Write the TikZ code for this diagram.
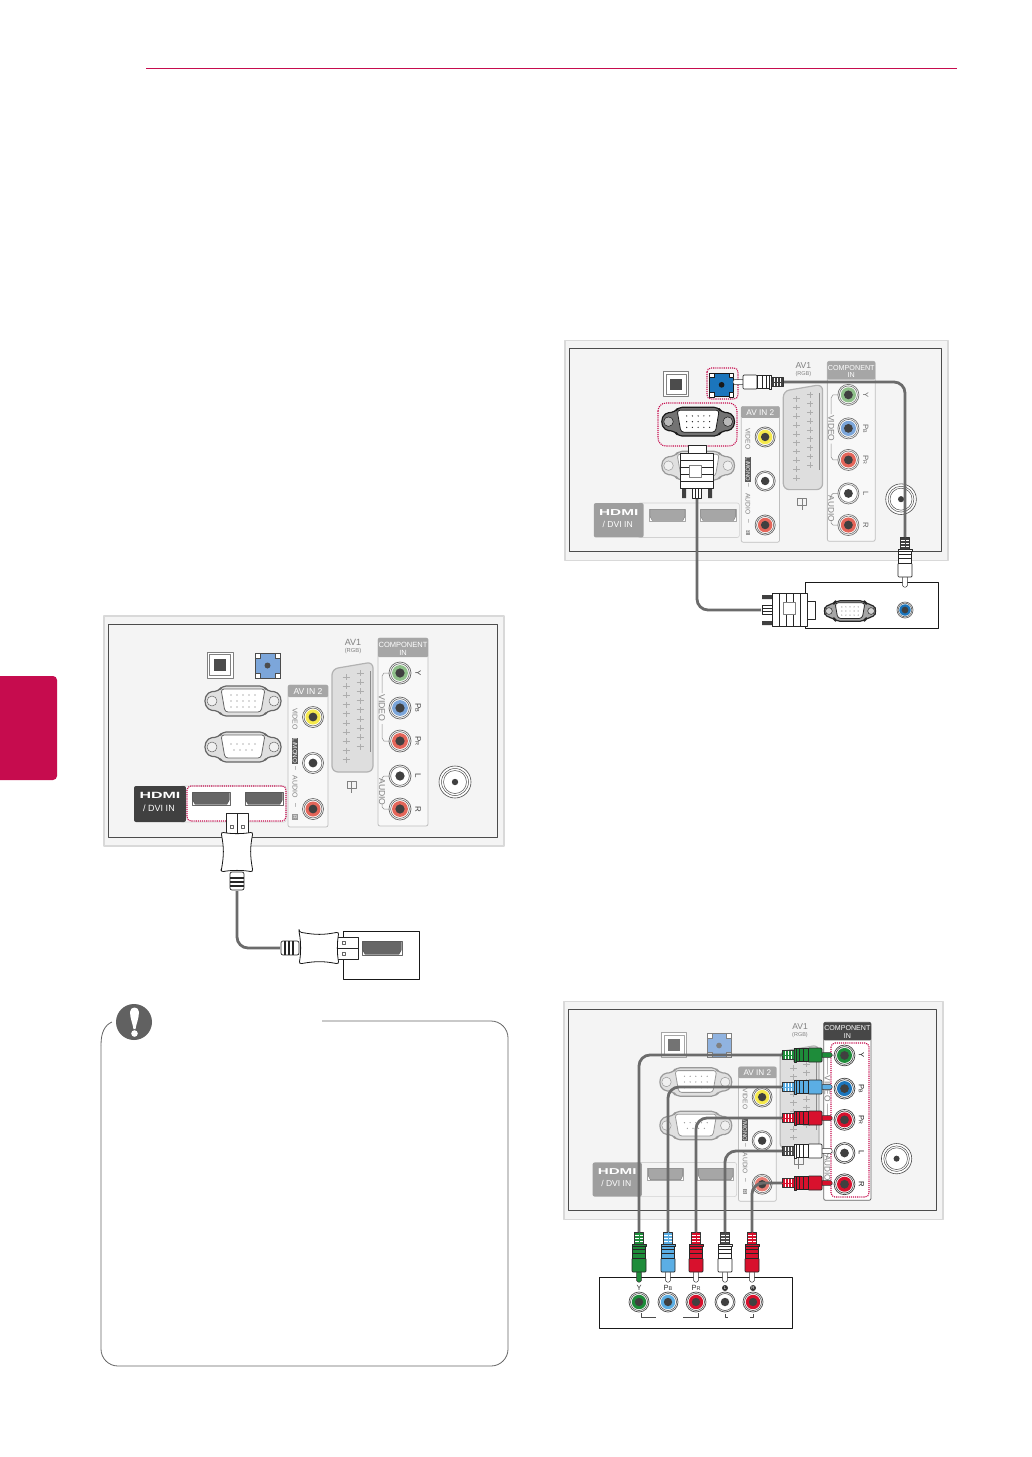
\documentclass[tikz,border=0pt]{standalone}
\usepackage{fontspec}
\setmainfont{Liberation Sans}
\usetikzlibrary{calc}
\definecolor{crim}{HTML}{C60C4E}
\definecolor{cabl}{HTML}{6B6B6B}
\definecolor{pbg}{HTML}{F4F4F4}
\definecolor{hgrn}{HTML}{1E8C3A}
\definecolor{hblu}{HTML}{5BAEE4}
\definecolor{hred}{HTML}{D8112D}
\definecolor{jgrn}{HTML}{8FC08A}
\definecolor{jblu}{HTML}{7CA6DA}
\definecolor{jred}{HTML}{E4665A}
\definecolor{jyel}{HTML}{F5E94C}
\definecolor{jblu2}{HTML}{1B75BC}
\tikzset{
  cable/.style={draw=cabl,line width=2.8pt,rounded corners=11pt},
  dotbox/.style={draw=crim,line width=1.1pt,densely dotted,rounded corners=4pt},
  plugline/.style={draw=black!85,line width=.7pt},
  txt/.style={inner sep=0pt,outer sep=0pt,transform shape}
}
\newcommand\fs[1]{\fontsize{#1}{#1}\selectfont}
% jack: x y fill ring radius
\newcommand\jk[5]{%
  \fill[white,draw=#4,line width=.7pt] (#1,#2) circle (#5);
  \fill[white,draw=#4,line width=.6pt] (#1,#2) circle ({#5*.85});
  \fill[#3] (#1,#2) circle ({#5*.72});
  \fill[black!75] (#1,#2) circle ({#5*.42});
}
% D-sub: x y fill outline inner rows(1=vga,0=serial)
\newcommand\dsub[6]{\begin{scope}[shift={(#1,#2)}]
  \colorlet{dsx}{#3}
  \draw[draw=#4,fill=#3,line width=1.2pt,rounded corners=4pt] (-39,0)--(-35,-9)--(-24,-10)--(-21,-15)--(21,-15)--(24,-10)--(35,-9)--(39,0)--(35,9)--(24,10)--(21,15)--(-21,15)--(-24,10)--(-35,9)--cycle;
  \draw[draw=#4,fill=dsx!50!white,line width=.5pt] (-31,0) circle (5) (31,0) circle (5);
  \draw[draw=#4,fill=#5,line width=.8pt,rounded corners=3pt] (-22,-12)--(22,-12)--(18,11)--(-18,11)--cycle;
  \ifnum#6=1
    \foreach \yy in {-6,0,6} \foreach \xx in {-12,-6,...,12} \fill[#4] (\xx,\yy) circle (.7);
  \else
    \foreach \xx in {-12,-6,...,12} \fill[#4] (\xx,-3) circle (.7);
    \foreach \xx in {-9,-3,...,9} \fill[#4] (\xx,3) circle (.7);
  \fi
\end{scope}}
% hdmi port
\newcommand\hport[5]{%
  \colorlet{hpx}{#5}
  \fill[white,draw=hpx,line width=.5pt] (#1,#2) rectangle (#3,#4);
  \fill[hpx,draw=hpx!70!black,line width=.3pt] (#1+.7,#2+.7)--(#3-.7,#2+.7)--(#3-.7,#4-5)--(#3-3,#4-.7)--(#1+3,#4-.7)--(#1+.7,#4-5)--cycle;
}
% the back panel, drawn in the coordinates of the first panel
\newcommand\tvpanel[2]{%
  \fill[pbg,draw=black!15,line width=1.5pt] (104,616) rectangle (504,846);
  \draw[black!70,line width=.9pt] (108,624) rectangle (497,837);
  \begin{scope}[shift={(0,#2)}]
  % optical
  \draw[draw=optl,line width=.9pt,fill=white] (207,652) rectangle (233,678);
  \draw[draw=optl,line width=.6pt] (209.5,654.5) rectangle (230.5,675.5);
  \fill[optd] (214,659) rectangle (226,671);
  % blue socket
  \fill[blus,draw=bluo,line width=.6pt] (255,653) rectangle (280,678);
  \foreach \a/\b in {255/653,275/653,255/673,275/673} \fill[white,draw=bluo,line width=.4pt] (\a,\b) rectangle ++(5,5);
  \fill[bluo] (267.5,665.5) circle (3);
  \end{scope}
  \dsub{243}{701}{vgaf}{vgao}{vgai}{1}
  \dsub{243}{747}{serf}{sero}{seri}{0}
  % AV IN 2
  \draw[draw=avbox,line width=.7pt,fill=pbg!60!white,rounded corners=2pt] (288,685) rectangle (328,827);
  \fill[black!35,rounded corners=1pt] (288,685) rectangle (328,697);
  \node[txt,text=white] (#1avin) at (308,691.5) {\fs{8.6}AV IN 2};
  \jk{313}{717}{jyel}{black!60}{10.5}
  \jk{313}{763}{white}{black!60}{10.5}
  \jk{313}{809}{avred}{black!60}{10.5}
  \node[txt,rotate=-90,text=black!50] (#1vid) at (295,719) {\fs{7}VIDEO};
  \node[txt,rotate=-90,fill=black!65,text=white,inner sep=.5pt] (#1mono) at (295,751) {\fs{6.2}L/MONO};
  \node[txt,rotate=-90,text=black!55] (#1dash) at (295,768) {\fs{7}–};
  \node[txt,rotate=-90,text=black!50] (#1aud) at (295,787) {\fs{7}AUDIO};
  \node[txt,rotate=-90,text=black!55] (#1dashb) at (295,805) {\fs{7}–};
  \node[txt,rotate=-90,fill=black!40,text=white,inner sep=.8pt] (#1rr) at (295,817) {\fs{5}R};
  % SCART
  \draw[draw=black!30,line width=1.2pt,fill=black!13,rounded corners=6pt] (332,669)--(373,662)--(373,772)--(332,772)--cycle;
  \draw[black!45,line width=.7pt] (370,671)--(370,752);
  \foreach \n in {0,...,9} {
    \draw[black!32,line width=.8pt] (342.5,{677+\n*9.2})--(349.5,{677+\n*9.2}) (346,{674+\n*9.2})--(346,{680+\n*9.2});
  }
  \foreach \n in {0,...,8} {
    \draw[black!32,line width=.8pt] (356.5,{673+\n*9.2})--(363.5,{673+\n*9.2}) (360,{670+\n*9.2})--(360,{676+\n*9.2});
  }
  \draw[black!50,line width=.5pt] (347,781) rectangle (356,788) (351.5,781)--(351.5,793);
  \node[txt,text=black!50] (#1av1) at (353,642) {\fs{9}AV1};
  \node[txt,text=black!50] (#1rgb) at (353,651) {\fs{5.8}(RGB)};
  % COMPONENT
  \draw[draw=compo,line width=.8pt,fill=compf,rounded corners=2pt] (378,638) rectangle (428,826);
  \fill[comph,rounded corners=1pt] (378,638) rectangle (428,657);
  \node[txt,text=white] (#1comp) at (403,644.5) {\fs{7.5}COMPONENT};
  \node[txt,text=white] (#1compb) at (403,652.5) {\fs{7.5}IN};
  \draw[black!45,line width=.5pt] (392,673)--(384,673)--(382,676)--(382,693) (382,724)--(382,738)--(384,741)--(392,741) (392,776)--(384,776)--(382,778)--(382,781) (382,804)--(382,807)--(384,809)--(392,809);
  \node[txt,rotate=-90,text=black!50] (#1cv) at (382,708) {\fs{8.8}VIDEO};
  \node[txt,rotate=-90,text=black!50] (#1ca) at (382,792) {\fs{8.6}AUDIO};
  \jk{400}{673}{compY}{compl}{11}
  \jk{400}{708}{compB}{compl}{11}
  \jk{400}{741}{compR}{compl}{11}
  \jk{400}{776}{white}{compl}{11}
  \jk{400}{809}{compR}{compl}{11}
  \node[txt,rotate=-90,text=compt] (#1y) at (418,673) {\fs{8}Y};
  \node[txt,rotate=-90,text=compt] (#1pb) at (418,708) {\fs{8}P{\fs{5.5}B}};
  \node[txt,rotate=-90,text=compt] (#1pr) at (418,741) {\fs{8}P{\fs{5.5}R}};
  \node[txt,rotate=-90,text=compt] (#1l) at (418,776) {\fs{8}L};
  \node[txt,rotate=-90,text=compt] (#1r) at (418,809) {\fs{8}R};
  % antenna
  \fill[white,draw=black!70,line width=.6pt] (455,782) circle (16);
  \draw[black!70,line width=.5pt] (455,782) circle (13.5);
  \draw[black!70,line width=.5pt] (455,782) circle (11.5);
  \fill[black!75] (455,782) circle (3.2);
  % HDMI
  \draw[draw=black!18,line width=.6pt,fill=hwhite,rounded corners=2pt] (180,786) rectangle (286,822);
  \fill[hlab,rounded corners=2pt] (134,786) rectangle (186,822);
  \node[txt,text=white,font=\bfseries] (#1hd) at (160,795.5) {\fs{10}\scalebox{1.6}[.9]{HDMI}};
  \node[txt,text=white] (#1dvi) at (159,808.5) {\fs{9}/ DVI IN};
  \hport{192}{792}{230}{805}{hprt}
  \hport{245}{792}{283}{805}{hprt}
}
% RCA plug: name x y rot body dark tip
\newcommand\rca[7]{\begin{scope}[shift={(#2,#3)},rotate=#4]
  \fill[#7,draw=black!80,line width=.5pt,rounded corners=1.5pt] (-11,-2.4) rectangle (0,2.4);
  \draw[plugline,fill=#5,rounded corners=1pt] (-24,-7) rectangle (-10,7);
  \draw[plugline,fill=#5] (-36,-6.4) rectangle (-24,6.4);
  \draw[plugline] (-33,-6.4)--(-33,6.4) (-29,-6.4)--(-29,6.4);
  \draw[plugline,fill=#5] (-38,-7) rectangle (-36,7);
  \fill[#6,draw=black!80,line width=.5pt] (-50,-4.4) rectangle (-38,4.4);
  \draw[white,line width=.7pt] (-47,-4.4)--(-47,4.4) (-44,-4.4)--(-44,4.4) (-41,-4.4)--(-41,4.4);
  \draw[#6,line width=.6pt] (-50,0)--(-38,0);
  \coordinate (#1) at (-50,0);
\end{scope}}
% VGA plug: name x y rot
\newcommand\vgaplug[4]{\begin{scope}[shift={(#2,#3)},rotate=#4]
  \draw[plugline,fill=white] (-8,-9) rectangle (0,9);
  \fill[black!75] (-53,-15) rectangle (-43,-11) (-53,11) rectangle (-43,15);
  \draw[plugline,fill=white] (-53,-4.5) rectangle (-43,4.5);
  \draw[plugline] (-53,-1.5)--(-43,-1.5) (-53,1.5)--(-43,1.5);
  \draw[plugline,fill=white] (-43,-16.5) rectangle (-8,16.5);
  \foreach \q in {-15,-22,-29,-36} \draw[plugline] (\q,-16.5)--(\q,16.5);
  \draw[draw=black!50,line width=.4pt,fill=white] (-32,-8) rectangle (-20,4);
  \coordinate (#1) at (-54,0);
\end{scope}}
% HDMI plug: name x y rot
\newcommand\hdmiplug[4]{\begin{scope}[shift={(#2,#3)},rotate=#4]
  \draw[plugline,fill=white] (-21,-11) rectangle (0,11);
  \draw[plugline] (-21,0)--(0,0);
  \draw[black!60,line width=.4pt] (-15.5,-7) rectangle ++(3,3) (-15.5,4) rectangle ++(3,3);
  \draw[plugline,fill=white,rounded corners=2pt] (-77,-7) rectangle (-59,7);
  \foreach \q in {-73,-69,-65} \draw[draw=black!85,line width=1.2pt] (\q,-7)--(\q,7);
  \draw[draw=black!90,line width=.8pt,fill=white,rounded corners=2.5pt] (-59,-16)..controls (-42,-13) and (-35,-13)..(-19,-16)..controls (-21,-6) and (-21,6)..(-19,16)..controls (-35,13) and (-42,13)..(-59,16)..controls (-57,6) and (-57,-6)..cycle;
  \coordinate (#1) at (-78,0);
\end{scope}}
\begin{document}
\begin{tikzpicture}[x=1pt,y=-1pt,line join=round]
\useasboundingbox (0,0) rectangle (1032,1457);
\fill[white] (0,0) rectangle (1032,1457);
\coordinate (ruleA) at (146,68);
\coordinate (ruleB) at (957,68);
\draw[crim,line width=1pt] (ruleA)--(ruleB);
\fill[crim,rounded corners=4pt] (-8,676) rectangle (57,780);
% ---------- panel 1
\colorlet{optl}{black!50}\colorlet{optd}{black!70}\colorlet{blus}{jblu}\colorlet{bluo}{black!70}
\colorlet{vgaf}{black!12}\colorlet{vgao}{black!60}\colorlet{vgai}{white}
\colorlet{serf}{black!12}\colorlet{sero}{black!60}\colorlet{seri}{white}
\colorlet{avbox}{black!25}\colorlet{avred}{jred}
\colorlet{compo}{black!25}\colorlet{compf}{pbg!60!white}\colorlet{comph}{black!35}
\colorlet{compY}{jgrn}\colorlet{compB}{jblu}\colorlet{compR}{jred}\colorlet{compl}{black!60}\colorlet{compt}{black!75}
\colorlet{hwhite}{white}\colorlet{hlab}{black!75}\colorlet{hprt}{black!60}
\tvpanel{a}{0}
\draw[dotbox] (187,786) rectangle (286,821);
% ---------- HDMI hookup
\fill[white,draw=black!90,line width=.9pt] (343,931) rectangle (419,979);
\hport{362}{941}{402}{955}{black!60}
\hdmiplug{hp}{237}{813}{90}
\hdmiplug{hq}{358}{948}{0}
\draw[cable] (hp) |- (hq);
% ---------- note box
\coordinate (noteA) at (322,1021);
\coordinate (noteB) at (112,1022);
\draw[black!60,line width=.8pt,rounded corners=17pt] (noteA)--(508,1021)--(508,1366)--(101,1366)--(101,1045);
\draw[black!60,line width=.8pt] (101,1045) .. controls (101,1032) and (105,1025) .. (noteB);
\fill[black!62] (134,1022) circle (18);
\fill[white] (130,1012) .. controls (130,1006) and (139,1006) .. (139,1012) .. controls (139,1018) and (136,1025) .. (135.5,1029) -- (133.5,1029) .. controls (133,1025) and (130,1018) .. (130,1012) -- cycle;
\fill[white] (134.5,1033.5) circle (3.3);
% ---------- panel 2
\begin{scope}[shift={(465.6,-249.2)},scale=.957]
\colorlet{optl}{black!50}\colorlet{optd}{black!70}\colorlet{blus}{jblu2}\colorlet{bluo}{black!90}
\colorlet{vgaf}{black!55}\colorlet{vgao}{black!90}\colorlet{vgai}{white}
\colorlet{serf}{black!12}\colorlet{sero}{black!40}\colorlet{seri}{white}
\colorlet{avbox}{black!25}\colorlet{avred}{jred}
\colorlet{compo}{black!25}\colorlet{compf}{pbg!60!white}\colorlet{comph}{black!35}
\colorlet{compY}{jgrn}\colorlet{compB}{jblu}\colorlet{compR}{jred}\colorlet{compl}{black!55}\colorlet{compt}{black!60}
\colorlet{hwhite}{pbg}\colorlet{hlab}{black!38}\colorlet{hprt}{black!35}
\tvpanel{b}{-3}
\end{scope}
\draw[dotbox] (707,368) rectangle (738,399);
\draw[dotbox,rounded corners=8pt] (658,403) rectangle (737,446);
\fill[white,draw=black!90,line width=.9pt] (805,582) rectangle (938,628);
\begin{scope}[shift={(850,611)},scale=.68]
\dsub{0}{0}{black!35}{black!85}{white}{1}
\end{scope}
\jk{905}{610}{jblu2}{black!60}{8}
\coordinate (pcur) at (783,382);
\rca{pv}{905}{587}{-90}{white}{black!75}{white}
\draw[cable] (pcur) -| (pv);
\rca{pt}{733}{382}{180}{white}{black!75}{white}
\vgaplug{qa}{697}{445}{90}
\vgaplug{qb}{815}{610}{0}
\draw[cable] (qa) |- (qb);
% ---------- panel 3
\begin{scope}[shift={(465.7,418.1)},scale=.947]
\colorlet{optl}{black!35}\colorlet{optd}{black!55}\colorlet{blus}{jblu!85}\colorlet{bluo}{black!50}
\colorlet{vgaf}{black!12}\colorlet{vgao}{black!40}\colorlet{vgai}{white}
\colorlet{serf}{black!12}\colorlet{sero}{black!40}\colorlet{seri}{white}
\colorlet{avbox}{black!25}\colorlet{avred}{jred!85}
\colorlet{compo}{black!60}\colorlet{compf}{white}\colorlet{comph}{black!72}
\colorlet{compY}{hgrn}\colorlet{compB}{jblu2}\colorlet{compR}{hred}\colorlet{compl}{black!75}\colorlet{compt}{black!90}
\colorlet{hwhite}{pbg}\colorlet{hlab}{black!38}\colorlet{hprt}{black!35}
\tvpanel{c}{-3}
\end{scope}
\draw[dotbox] (831,1043) rectangle (869,1197);
\fill[white,draw=black!90,line width=.9pt] (599,1277) rectangle (792,1328);
\foreach \xx/\cc in {639/hgrn,668/hblu,696/hred,725/white,753/hred} {\jk{\xx}{1302}{\cc}{black!70}{10}}
\node[txt,text=black!80] (ly) at (639,1288) {\fs{7.5}Y};
\node[txt,text=black!80] (lb) at (668,1288) {\fs{7.5}P{\fs{5.5}B}};
\node[txt,text=black!80] (lr) at (696,1288) {\fs{7.5}P{\fs{5.5}R}};
\node[txt,circle,fill=black!80,text=white,minimum size=6pt] (ll) at (725,1288) {\fs{4.5}L};
\node[txt,circle,fill=black!80,text=white,minimum size=6pt] (lrr) at (753,1288) {\fs{4.5}R};
\draw[black!70,line width=.6pt] (641,1313)--(641,1317)--(656,1317) (683,1317)--(698,1317)--(698,1313) (725,1314)--(725,1317)--(728,1317) (753,1314)--(753,1317)--(750,1317);
\rca{v1}{639}{1282}{-90}{hgrn}{hgrn}{hgrn}
\rca{v2}{668}{1282}{-90}{hblu}{hblu}{white}
\rca{v3}{696}{1282}{-90}{hred}{hred}{white}
\rca{v4}{725}{1282}{-90}{white}{black!70}{white}
\rca{v5}{752}{1282}{-90}{hred}{hred}{white}
\coordinate (c1) at (782,1055);
\coordinate (c2) at (782,1087);
\coordinate (c3) at (782,1118);
\coordinate (c4) at (782,1151);
\coordinate (c5) at (782,1183);
\draw[cable] (c1) -| (v1);
\draw[cable] (c2) -| (v2);
\draw[cable] (c3) -| (v3);
\draw[cable] (c4) -| (v4);
\draw[cable] (c5) -| (v5);
\rca{h1}{832}{1055}{0}{hgrn}{hgrn}{hgrn}
\rca{h2}{832}{1087}{0}{hblu}{hblu}{hblu}
\rca{h3}{832}{1118}{0}{hred}{hred}{hred}
\rca{h4}{832}{1151}{0}{white}{black!70}{white}
\rca{h5}{832}{1183}{0}{hred}{hred}{hred}
\end{tikzpicture}
\end{document}
